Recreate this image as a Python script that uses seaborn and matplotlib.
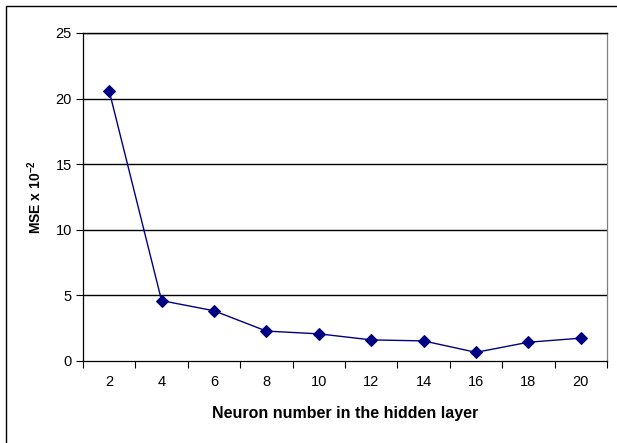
import matplotlib
matplotlib.use("Agg")
import matplotlib.pyplot as plt
import seaborn as sns
import pandas as pd
from matplotlib.patches import Rectangle

neurons = ["2", "4", "6", "8", "10", "12", "14", "16", "18", "20"]
mse = [20.58, 4.6, 3.83, 2.28, 2.07, 1.61, 1.53, 0.66, 1.43, 1.74]
y_ticks = [0, 5, 10, 15, 20, 25]

sns.set_style("white")
plt.rcParams['font.family'] = ['Liberation Sans', 'DejaVu Sans']
plt.rcParams['mathtext.fontset'] = 'custom'
plt.rcParams['mathtext.rm'] = 'Liberation Sans'
plt.rcParams['mathtext.bf'] = 'Liberation Sans:bold'
plt.rcParams['text.color'] = 'black'
plt.rcParams['axes.labelcolor'] = 'black'
plt.rcParams['xtick.color'] = 'black'
plt.rcParams['ytick.color'] = 'black'

df = pd.DataFrame({"pos": range(len(neurons)), "mse": mse})

fig = plt.figure(figsize=(6.17, 4.43), dpi=100)
ax = fig.add_axes([83/617, 1-361/443, (607-83)/617, (361-33)/443])

sns.lineplot(data=df, x="pos", y="mse", ax=ax, color="#000080", lw=1.0,
             marker="D", markersize=6, markeredgecolor="#000080", zorder=3)

ax.set_xlim(-0.5, len(neurons) - 0.5)
ax.set_ylim(0, 25)
ax.set_yticks(y_ticks)
ax.set_yticklabels([str(v) for v in y_ticks], fontsize=10.5)
for v in y_ticks[1:]:
    ax.axhline(v, color="black", lw=1.0, zorder=1)

ax.set_xticks([i - 0.5 for i in range(len(neurons) + 1)])
ax.set_xticklabels([])
ax.set_xticks(range(len(neurons)), minor=True)
ax.set_xticklabels(neurons, minor=True, fontsize=10.5)
ax.tick_params(axis="x", which="major", direction="out", length=5, width=0.8, color="black", bottom=True)
ax.tick_params(axis="x", which="minor", length=0, pad=10)
ax.tick_params(axis="y", direction="out", length=5, width=0.8, color="black", left=True, pad=3)

for s in ["left", "bottom"]:
    ax.spines[s].set_color("black")
    ax.spines[s].set_linewidth(0.9)
ax.spines["top"].set_color("black")
ax.spines["top"].set_linewidth(1.0)
ax.spines["right"].set_color("#808080")
ax.spines["right"].set_linewidth(0.9)

ax.set_xlabel("Neuron number in the hidden layer", fontsize=11.5, fontweight="bold", labelpad=12)
ax.set_ylabel(r"MSE x 10$^{\mathbf{-2}}$", fontsize=10, fontweight="bold", labelpad=8)

fig.patches.append(Rectangle((6/617, -0.1), 1.2, 1 - 6/443 + 0.1, transform=fig.transFigure,
                             fill=False, edgecolor="black", lw=1.0))

fig.savefig("out.png", dpi=100)
